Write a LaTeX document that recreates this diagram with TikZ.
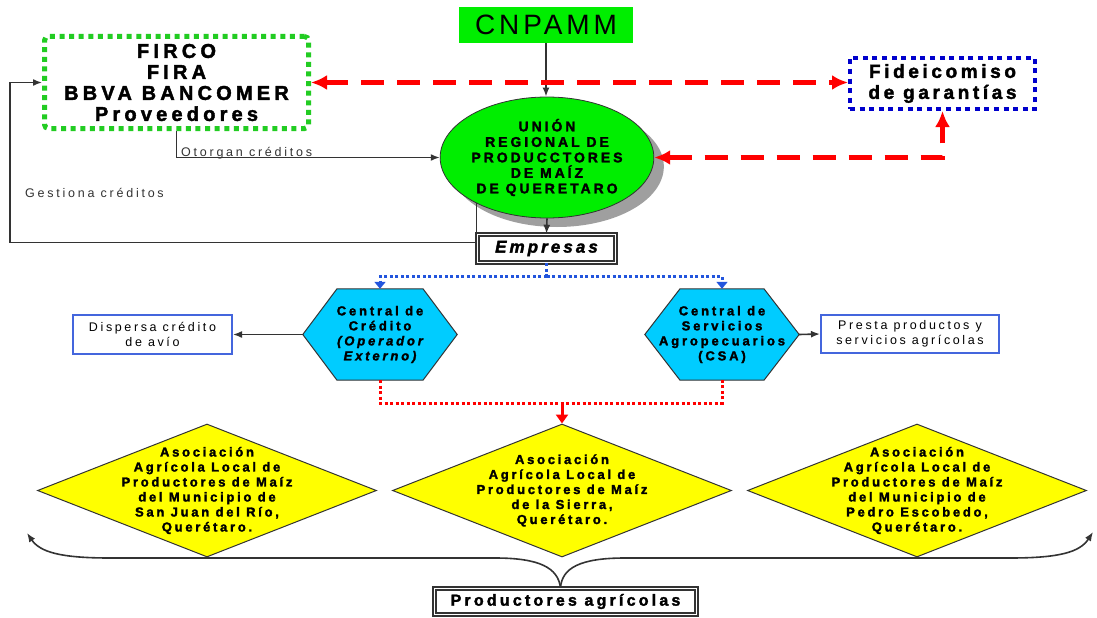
\documentclass[tikz,border=0pt]{standalone}
\usepackage{fontspec}
\setmainfont{Liberation Sans}
\usetikzlibrary{shapes.geometric,arrows.meta,calc,shadows}
\definecolor{gfill}{HTML}{00EE00}
\definecolor{gdot}{HTML}{22CC22}
\definecolor{bdot}{HTML}{0000CC}
\definecolor{lblue}{HTML}{4466DD}
\definecolor{cyanf}{HTML}{00CCFF}
\definecolor{ylw}{HTML}{FFFF00}
\definecolor{rd}{HTML}{FF0000}
\definecolor{bconn}{HTML}{2255DD}
\definecolor{ink}{HTML}{333333}
\newcommand\fsz[2]{\fontsize{#1}{#2}\selectfont}
\newcommand\lsp[1]{\addfontfeature{LetterSpace=#1}}
\newcommand\blsp[1]{\addfontfeature{LetterSpace=#1,FakeBold=2}}
\pgfdeclarelayer{bg}\pgfsetlayers{bg,main}
\tikzset{
  RT/.tip={Latex[length=16pt,width=15pt]},
  KT/.tip={Latex[length=9pt,width=7pt]},
  BT/.tip={Triangle[length=7pt,width=11pt]},
  blk/.style={draw=ink, line width=1.6pt, -KT},
  plain/.style={draw=ink, line width=1.6pt},
  reddash/.style={draw=rd, line width=4.5pt, dash pattern=on 23pt off 13pt},
  bluedot/.style={draw=bconn, line width=3pt, dash pattern=on 3pt off 2.5pt},
  reddot/.style={draw=rd, line width=3pt, dash pattern=on 3pt off 2.5pt},
  dbl/.style={draw=ink, double=white, double distance=1.6pt, line width=1.6pt, inner sep=0pt},
  hexfont/.style={align=center, font=\bfseries\fsz{13}{15}\blsp{22}},
  hexshape/.style={fill=cyanf, draw=ink, line width=1pt},
  dia/.style={diamond, draw=ink, line width=1pt, fill=ylw, minimum width=339pt, minimum height=133pt, inner sep=0pt},
  dtext/.style={align=center, font=\bfseries\fsz{13}{15}\blsp{21}},
  lbox/.style={draw=lblue, line width=2pt, inner sep=0pt, align=center, font=\fsz{12.5}{15}\lsp{21}},
  lbl/.style={inner sep=0pt, font=\fsz{12.5}{15}\lsp{22}, text=ink}
}
\begin{document}
\begin{tikzpicture}[x=1pt,y=-1pt]
\useasboundingbox (0,0) rectangle (1097,618);
\begin{pgfonlayer}{bg}
\fill[white] (0,0) rectangle (1097,618);
\end{pgfonlayer}

% top nodes
\node[fill=gfill, minimum width=174pt, minimum height=36pt, inner sep=0pt, font=\fsz{28}{30}\lsp{14}] (cn) at (546,25) {CNPAMM};
\node[draw=gdot, line width=5pt, dash pattern=on 5pt off 4.6pt, rounded corners=4pt, minimum width=264pt, minimum height=92pt, inner sep=0pt, align=center, font=\bfseries\fsz{20}{21}\blsp{21}] (fin) at (176.5,82.5) {FIRCO\\FIRA\\BBVA BANCOMER\\Proveedores};
\node[draw=bdot, line width=4pt, dash pattern=on 5pt off 4.6pt, minimum width=185pt, minimum height=51pt, inner sep=0pt, align=center, font=\bfseries\fsz{19}{21}\blsp{19}] (fid) at (942.5,83.5) {Fideicomiso\\de garantías};
\node[ellipse, draw=ink, line width=0.8pt, fill=gfill, minimum width=189pt, minimum height=121pt, inner sep=0pt, align=center, font=\bfseries\fsz{14}{15.5}\blsp{21},
  drop shadow={shadow xshift=10pt, shadow yshift=-9pt, fill=gray!75, opacity=1}] (ur) at (547,157.5) {UNIÓN\\REGIONAL DE\\PRODUCCTORES\\DE MAÍZ\\DE QUERETARO};
\node[dbl, minimum width=138pt, minimum height=28pt, font=\bfseries\itshape\fsz{17}{18}\blsp{18}] (emp) at (546.5,248.5) {Empresas};

% labels
\node[lbl, anchor=base west] (otl) at (181,156) {Otorgan créditos};
\node[lbl, anchor=base west] (gel) at (25,197) {Gestiona créditos};

% hexagons
\node[minimum width=154pt, minimum height=91pt, inner sep=0pt, hexfont] (cc) at (380,334.5) {Central de\\Crédito\\{\itshape (Operador}\\{\itshape Externo)}};
\node[minimum width=154pt, minimum height=91pt, inner sep=0pt, hexfont] (cs) at (722,334.5) {Central de\\Servicios\\Agropecuarios\\(CSA)};
\begin{pgfonlayer}{bg}
\path[hexshape] (cc.west) -- ($(cc.north)+(-43,0)$) -- ($(cc.north)+(43,0)$) -- (cc.east) -- ($(cc.south)+(43,0)$) -- ($(cc.south)+(-43,0)$) -- cycle;
\path[hexshape] (cs.west) -- ($(cs.north)+(-42,0)$) -- ($(cs.north)+(42,0)$) -- (cs.east) -- ($(cs.south)+(42,0)$) -- ($(cs.south)+(-42,0)$) -- cycle;
\end{pgfonlayer}

% side boxes
\node[lbox, minimum width=159pt, minimum height=39pt] (disp) at (152.5,334.5) {Dispersa crédito\\de avío};
\node[lbox, minimum width=178pt, minimum height=38pt] (pre) at (910,334) {Presta productos y\\servicios agrícolas};

% diamonds
\node[dia] (d1) at (207,490.5) {};
\node[dia] (d2) at (562,490.5) {};
\node[dia] (d3) at (917,490.5) {};
\node[dtext] (t1) at (d1) {Asociación\\Agrícola Local de\\Productores de Maíz\\del Municipio de\\San Juan del Río,\\Querétaro.};
\node[dtext] (t2) at (d2) {Asociación\\Agrícola Local de\\Productores de Maíz\\de la Sierra,\\Querétaro.};
\node[dtext] (t3) at (d3) {Asociación\\Agrícola Local de\\Productores de Maíz\\del Municipio de\\Pedro Escobedo,\\Querétaro.};

\node[dbl, minimum width=262pt, minimum height=26pt, font=\bfseries\fsz{16}{17}\blsp{20}] (prod) at (565.5,601.5) {Productores agrícolas};

% connectors
\draw[blk] (cn.south) -- (cn.south |- ur.north);
\draw[blk] (fin.south) |- (ur.west);
\draw[reddash, RT-RT] (fin.east) -- (fin.east -| fid.west);
\draw[reddash, RT-RT] (ur.east) -| (fid.south);
\draw[blk] (ur.south) -- (emp.north);
\draw[plain] (ur.-147) -- (ur.-147 |- emp.north);
\coordinate (g1) at (10,82.5);
\draw[blk] ([yshift=6pt]emp.west) -| (g1) -- (fin.west);

\coordinate (bj) at (546.5,276.5);
\draw[bluedot] (emp.south) -- (bj);
\draw[bluedot, -BT] (bj) -| (cc.north);
\draw[bluedot, -BT] (bj) -| (cs.north);

\draw[blk] (cc.west) -- (disp.east);
\draw[blk] (cs.east) -- (pre.west);

\coordinate (rj) at (562,403);
\draw[reddot] (cc.south) |- (rj) -| (cs.south);
\draw[draw=rd, line width=3pt, -{Triangle[length=9pt,width=12pt]}] (rj) -- (d2.north);

% brace
\coordinate (bt) at ([xshift=-5pt]prod.north);
\coordinate (lend) at (27,533);
\coordinate (rend) at (1093,532);
\draw[blk] (bt) .. controls (558,568) and (540,558) .. (495,558) -- (110,558) .. controls (60,558) and (40,552) .. (lend);
\draw[blk] (bt) .. controls (562,568) and (580,558) .. (625,558) -- (1010,558) .. controls (1060,558) and (1080,552) .. (rend);
\end{tikzpicture}
\end{document}
